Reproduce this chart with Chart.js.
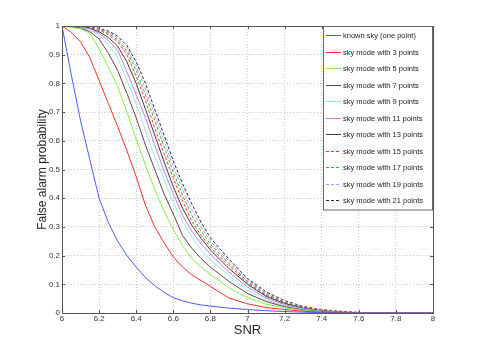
<!DOCTYPE html>
<html>
<head>
<meta charset="utf-8">
<script src="https://cdn.jsdelivr.net/npm/chart.js@4/dist/chart.umd.min.js"></script>
<style>
  html, body { margin: 0; padding: 0; background: #fff; }
  #wrap { width: 480px; height: 352px; }
</style>
</head>
<body>
<div id="wrap"><canvas id="farChart" width="480" height="352"></canvas></div>
<script>
// SNR sample points (shared by every curve)
const snr = [6.0, 6.05, 6.1, 6.15, 6.2, 6.25, 6.3, 6.35, 6.4, 6.45, 6.5, 6.55, 6.6, 6.65, 6.7, 6.75, 6.8, 6.9, 7.0, 7.1, 7.2, 7.3, 7.4, 7.5, 7.6, 7.8, 8.0];

// false alarm probability
const knownSky = [1, 0.83, 0.67, 0.535, 0.4, 0.315, 0.25, 0.2, 0.16, 0.123, 0.095, 0.072, 0.053, 0.043, 0.034, 0.028, 0.024, 0.017, 0.012, 0.008, 0.005, 0.003, 0.001, 0, 0, 0, 0];
const sky3 = [1, 0.978, 0.945, 0.89, 0.81, 0.73, 0.65, 0.565, 0.475, 0.375, 0.3, 0.245, 0.195, 0.16, 0.133, 0.113, 0.093, 0.052, 0.032, 0.019, 0.012, 0.006, 0.003, 0.001, 0, 0, 0];
const sky5 = [1, 0.995, 0.99, 0.975, 0.92, 0.855, 0.79, 0.7, 0.605, 0.515, 0.43, 0.355, 0.29, 0.235, 0.19, 0.16, 0.135, 0.088, 0.053, 0.031, 0.018, 0.009, 0.004, 0.001, 0, 0, 0];
const sky7 = [1, 0.998, 0.993, 0.98, 0.955, 0.905, 0.845, 0.765, 0.68, 0.585, 0.5, 0.415, 0.345, 0.27, 0.225, 0.19, 0.16, 0.11, 0.068, 0.04, 0.022, 0.011, 0.005, 0.002, 0, 0, 0];
const sky9 = [1, 0.999, 0.995, 0.985, 0.97, 0.935, 0.89, 0.81, 0.73, 0.635, 0.545, 0.465, 0.385, 0.32, 0.265, 0.22, 0.185, 0.13, 0.08, 0.046, 0.025, 0.013, 0.006, 0.002, 0, 0, 0];
const sky11 = [1, 0.999, 0.996, 0.99, 0.975, 0.95, 0.915, 0.84, 0.76, 0.68, 0.585, 0.495, 0.415, 0.34, 0.285, 0.24, 0.205, 0.142, 0.09, 0.052, 0.029, 0.015, 0.007, 0.002, 0, 0, 0];
const sky13 = [1, 1, 0.997, 0.992, 0.98, 0.96, 0.93, 0.875, 0.8, 0.71, 0.62, 0.527, 0.44, 0.365, 0.305, 0.26, 0.22, 0.155, 0.1, 0.058, 0.033, 0.017, 0.008, 0.003, 0.001, 0, 0];
const sky15 = [1, 1, 0.998, 0.994, 0.985, 0.97, 0.945, 0.9, 0.825, 0.74, 0.645, 0.555, 0.47, 0.39, 0.32, 0.27, 0.23, 0.165, 0.105, 0.062, 0.035, 0.019, 0.009, 0.004, 0.001, 0, 0];
const sky17 = [1, 1, 0.999, 0.995, 0.988, 0.975, 0.952, 0.912, 0.845, 0.76, 0.67, 0.58, 0.49, 0.41, 0.34, 0.285, 0.24, 0.172, 0.11, 0.066, 0.037, 0.02, 0.01, 0.004, 0.001, 0, 0];
const sky19 = [1, 1, 0.999, 0.996, 0.99, 0.978, 0.958, 0.922, 0.86, 0.78, 0.69, 0.6, 0.51, 0.43, 0.36, 0.3, 0.25, 0.18, 0.115, 0.07, 0.04, 0.021, 0.011, 0.005, 0.002, 0, 0];
const sky21 = [1, 1, 1, 0.997, 0.992, 0.982, 0.965, 0.932, 0.875, 0.8, 0.71, 0.62, 0.53, 0.45, 0.38, 0.315, 0.262, 0.188, 0.12, 0.074, 0.043, 0.023, 0.012, 0.006, 0.002, 0, 0];

const seriesLabels = ['known sky (one point)', 'sky mode with 3 points', 'sky mode with 5 points', 'sky mode with 7 points',
  'sky mode with 9 points', 'sky mode with 11 points', 'sky mode with 13 points', 'sky mode with 15 points',
  'sky mode with 17 points', 'sky mode with 19 points', 'sky mode with 21 points'];
const seriesValues = [knownSky, sky3, sky5, sky7, sky9, sky11, sky13, sky15, sky17, sky19, sky21];

const xTickLabels = ['6', '6.2', '6.4', '6.6', '6.8', '7', '7.2', '7.4', '7.6', '7.8', '8'];
const yTickLabels = ['0', '0.1', '0.2', '0.3', '0.4', '0.5', '0.6', '0.7', '0.8', '0.9', '1'];

const colors = ['#4a5cff', '#ff2b2b', '#86f040', '#6e3c4c', '#8ff2d8', '#c678ff', '#3a3a3a', '#ff3030', '#36ad36', '#b98cff', '#23233f'];
const dashed = [false, false, false, false, false, false, false, true, true, true, true];

const FONT = "'Liberation Sans', Arial, sans-serif";

const datasets = seriesLabels.map((label, i) => ({
  label: label,
  data: snr.map((x, j) => ({ x: x, y: seriesValues[i][j] })),
  borderColor: colors[i],
  backgroundColor: colors[i],
  borderWidth: 1,
  borderDash: dashed[i] ? [3, 2] : [],
  pointRadius: 0,
  tension: 0,
  fill: false
}));

// box round the axes, inward ticks, and the legend in the top-right corner
const framePlugin = {
  id: 'frame',
  afterDraw(chart) {
    const ctx = chart.ctx;
    const a = chart.chartArea;
    const xs = chart.scales.x, ys = chart.scales.y;
    ctx.save();
    ctx.strokeStyle = '#555';
    ctx.lineWidth = 1;
    ctx.setLineDash([]);
    // inward ticks
    ctx.beginPath();
    for (let i = 0; i < xTickLabels.length; i++) {
      const px = Math.round(xs.getPixelForValue(parseFloat(xTickLabels[i]))) + 0.5;
      ctx.moveTo(px, a.bottom); ctx.lineTo(px, a.bottom - 3);
      ctx.moveTo(px, a.top); ctx.lineTo(px, a.top + 3);
    }
    for (let i = 0; i < yTickLabels.length; i++) {
      const py = Math.round(ys.getPixelForValue(parseFloat(yTickLabels[i]))) + 0.5;
      ctx.moveTo(a.left, py); ctx.lineTo(a.left + 3, py);
      ctx.moveTo(a.right, py); ctx.lineTo(a.right - 3, py);
    }
    ctx.stroke();
    ctx.strokeRect(Math.round(a.left) + 0.5, Math.round(a.top) + 0.5, Math.round(a.right - a.left), Math.round(a.bottom - a.top));

    // legend
    const lx = 323, ly = 26, lw = 109, rowH = 16.5;
    const lh = rowH * chart.data.datasets.length + 2;
    ctx.fillStyle = '#fff';
    ctx.fillRect(lx, ly, lw, lh);
    ctx.strokeStyle = '#666';
    ctx.strokeRect(lx + 0.5, ly + 0.5, lw, lh);
    ctx.font = '7.5px ' + FONT;
    ctx.textBaseline = 'middle';
    chart.data.datasets.forEach((ds, i) => {
      const cy = Math.round(ly + 9 + i * rowH) + 0.5;
      ctx.beginPath();
      ctx.strokeStyle = ds.borderColor;
      ctx.setLineDash(ds.borderDash);
      ctx.moveTo(lx + 3, cy); ctx.lineTo(lx + 18, cy);
      ctx.stroke();
      ctx.setLineDash([]);
      ctx.fillStyle = '#222';
      ctx.fillText(ds.label, lx + 20, cy);
    });
    ctx.restore();
  }
};

new Chart(document.getElementById('farChart'), {
  type: 'line',
  data: { datasets: datasets },
  options: {
    responsive: false,
    animation: false,
    layout: { padding: { left: 35, top: 26, right: 47, bottom: 14 } },
    plugins: {
      legend: { display: false },
      tooltip: { enabled: false }
    },
    scales: {
      x: {
        type: 'linear',
        min: 6,
        max: 8,
        afterFit: (scale) => { scale.height = 25; },
        afterBuildTicks: (scale) => { scale.ticks = xTickLabels.map(v => ({ value: parseFloat(v) })); },
        ticks: {
          callback: (value, i) => xTickLabels[i],
          color: '#333',
          font: { family: FONT, size: 8 },
          padding: 1,
          maxRotation: 0
        },
        grid: { color: '#c8c8c8', drawTicks: false },
        border: { display: false, dash: [1, 2] },
        title: { display: true, text: 'SNR', color: '#222', font: { family: FONT, size: 13 }, padding: { top: 0, bottom: 0 } }
      },
      y: {
        type: 'linear',
        min: 0,
        max: 1,
        afterFit: (scale) => { scale.width = 27; },
        afterBuildTicks: (scale) => { scale.ticks = yTickLabels.map(v => ({ value: parseFloat(v) })); },
        ticks: {
          callback: (value, i) => yTickLabels[i],
          color: '#333',
          font: { family: FONT, size: 8 },
          padding: 2
        },
        grid: { color: '#c8c8c8', drawTicks: false },
        border: { display: false, dash: [1, 2] },
        title: { display: true, text: 'False alarm probability', color: '#222', font: { family: FONT, size: 12 }, padding: { top: 0, bottom: 0 } }
      }
    }
  },
  plugins: [framePlugin]
});
</script>
</body>
</html>
